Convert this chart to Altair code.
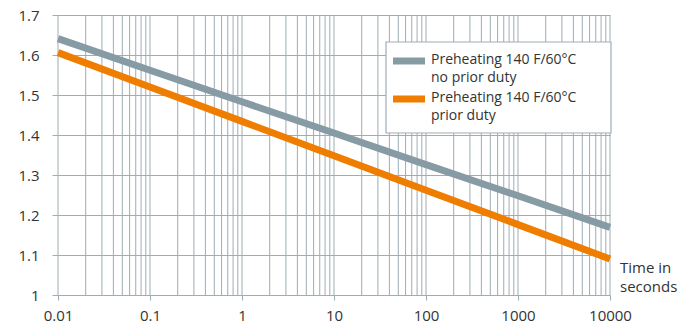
import altair as alt
import pandas as pd

# --- data ---
times = [0.01, 0.1, 1, 10, 100, 1000, 10000]
no_prior_duty = [1.641, 1.562, 1.483, 1.405, 1.326, 1.248, 1.169]
prior_duty = [1.606, 1.520, 1.434, 1.348, 1.262, 1.176, 1.090]
series_names = ["Preheating 140 F/60°C\nno prior duty", "Preheating 140 F/60°C\nprior duty"]
series_colors = ["#879ba5", "#ef7d00"]
y_ticks = [1.0, 1.1, 1.2, 1.3, 1.4, 1.5, 1.6, 1.7]
x_labels = [0.01, 0.1, 1, 10, 100, 1000, 10000]
grid_x = [round(m * 10.0 ** e, 6) for e in range(-2, 4) for m in range(1, 10)] + [10000]
x_title_lines = ["Time in", "seconds"]

FONT = "Open Sans"
GRID = "#9dadb6"
TEXT = "#333333"

rows = []
for name, vals in zip(series_names, [no_prior_duty, prior_duty]):
    for t, v in zip(times, vals):
        rows.append({"t": t, "v": v, "series": name})
df = pd.DataFrame(rows)
grid_df = pd.DataFrame({"t": grid_x})
one = pd.DataFrame({"k": [0]})

xscale = alt.Scale(type="log", domain=[0.01, 10000], nice=False)
yscale = alt.Scale(domain=[1.0, 1.7], nice=False, zero=False)

xaxis = alt.Axis(values=x_labels, grid=False, domain=False, ticks=True, tickSize=5,
                 tickColor=GRID, labelPadding=8, format="~g", labelFontSize=15,
                 labelFont=FONT, labelFontWeight=400, labelColor=TEXT, title=None,
                 labelFlush=False)
yaxis = alt.Axis(values=y_ticks, grid=True, gridColor=GRID, domain=False, ticks=True,
                 tickSize=6, tickColor=GRID, labelPadding=13, format=".1~f",
                 labelFontSize=15, labelFont=FONT, labelFontWeight=400, labelColor=TEXT,
                 title=None)

grid = alt.Chart(grid_df).mark_rule(color=GRID, strokeWidth=1).encode(
    x=alt.X("t:Q", scale=xscale, axis=xaxis)
)

lines = alt.Chart(df).mark_line(strokeWidth=7, strokeCap="butt").encode(
    x=alt.X("t:Q", scale=xscale, axis=xaxis),
    y=alt.Y("v:Q", scale=yscale, axis=yaxis),
    color=alt.Color("series:N", scale=alt.Scale(domain=series_names, range=series_colors), legend=None),
)

legend_box = alt.Chart(one).mark_rect(fill="white", stroke=GRID, strokeWidth=1.2).encode(
    x=alt.value(328), x2=alt.value(553), y=alt.value(27), y2=alt.value(118)
)
sym1 = alt.Chart(one).mark_rule(color=series_colors[0], strokeWidth=7).encode(
    x=alt.value(335), x2=alt.value(367), y=alt.value(46)
)
sym2 = alt.Chart(one).mark_rule(color=series_colors[1], strokeWidth=7).encode(
    x=alt.value(335), x2=alt.value(367), y=alt.value(84)
)
common = dict(align="left", lineBreak="\n", font=FONT, fontWeight=400, color=TEXT)
lab1 = alt.Chart(one).mark_text(baseline="top", lineHeight=18, fontSize=14, text=series_names[0], **common).encode(
    x=alt.value(373), y=alt.value(38)
)
lab2 = alt.Chart(one).mark_text(baseline="top", lineHeight=18, fontSize=14, text=series_names[1], **common).encode(
    x=alt.value(373), y=alt.value(76)
)
xtitle1 = alt.Chart(one).mark_text(baseline="middle", fontSize=15, text=x_title_lines[0], **common).encode(
    x=alt.value(562), y=alt.value(253)
)
xtitle2 = alt.Chart(one).mark_text(baseline="middle", fontSize=15, text=x_title_lines[1], **common).encode(
    x=alt.value(562), y=alt.value(272)
)

chart = alt.layer(grid, lines, legend_box, sym1, sym2, lab1, lab2, xtitle1, xtitle2).properties(
    width=552, height=280,
    autosize=alt.AutoSizeParams(type="none"),
    padding={"left": 50, "top": 7, "right": 68, "bottom": 30},
).configure_view(stroke=None)

chart.save("out.html", embed_options={"renderer": "svg", "actions": False})
